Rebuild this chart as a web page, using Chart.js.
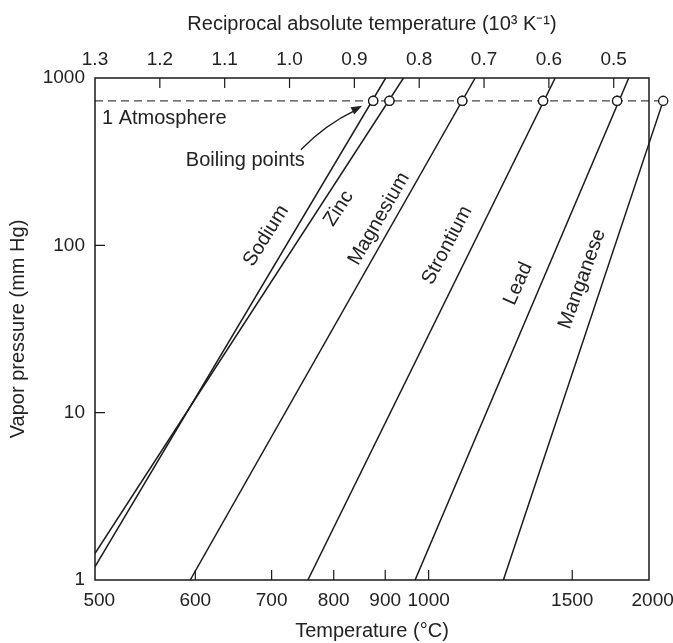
<!DOCTYPE html>
<html>
<head>
<meta charset="utf-8">
<script src="https://cdn.jsdelivr.net/npm/chart.js@4.4.0/dist/chart.umd.min.js"></script>
<style>
  html, body { margin: 0; padding: 0; background: #fff; }
  #wrap { width: 673px; height: 643px; }
</style>
</head>
<body>
<div id="wrap"><canvas id="vapor"></canvas></div>
<script>
// Values
const metals = ['Sodium', 'Zinc', 'Magnesium', 'Strontium', 'Lead', 'Manganese'];
// lower end of each line (°C, mm Hg)
const lowTemp = [496, 496, 594, 756, 967, 1219];
const lowPress = [1.2, 1.44, 1, 1, 1, 1];
// upper end of each line (°C, mm Hg)
const highTemp = [901, 940, 1128, 1421, 1824, 2087];
const highPress = [1000, 1000, 1000, 1000, 1000, 730];
// boiling points on the "1 atmosphere" line (°C, mm Hg as drawn)
const boilTemp = [875, 909, 1090, 1369, 1748, 2087];
const atmPress = 730;

// axis ticks
const tempTicks = [500, 600, 700, 800, 900, 1000, 1500, 2000];
const recipTicks = [1.3, 1.2, 1.1, 1.0, 0.9, 0.8, 0.7, 0.6, 0.5];
const pressTicks = [1, 10, 100, 1000];
const recipMin = 0.4456, recipMax = 1.3;

const toRecip = c => 1000 / (c + 273.15);
const FONT = '"Liberation Sans", Arial, Helvetica, sans-serif';
const INK = '#1a1a1a';
const TEXT = '#222';

// where the metal names sit (°C, mm Hg, degrees)
const nameSpots = [
  [692, 114, -58], [809, 166, -57], [887, 144, -60],
  [1048, 100, -62], [1272, 59, -66], [1550, 63, -70]
];

const datasets = [];

// boiling point circles
datasets.push({
  type: 'scatter',
  data: boilTemp.map(t => ({ x: toRecip(t), y: atmPress })),
  pointRadius: 4.6,
  pointBackgroundColor: '#fff',
  pointBorderColor: INK,
  pointBorderWidth: 1.3,
  clip: false,
  order: 0
});

metals.forEach((m, i) => {
  datasets.push({
    type: 'line',
    label: m,
    data: [
      { x: toRecip(lowTemp[i]), y: lowPress[i] },
      { x: toRecip(highTemp[i]), y: highPress[i] }
    ],
    borderColor: INK,
    borderWidth: 1.5,
    pointRadius: 0,
    clip: m === 'Manganese' ? false : undefined,
    order: 1
  });
});

// one atmosphere dashed line
datasets.push({
  type: 'line',
  data: [
    { x: recipMax, y: atmPress },
    { x: toRecip(boilTemp[boilTemp.length - 1]), y: atmPress }
  ],
  borderColor: '#444',
  borderWidth: 1.3,
  borderDash: [8, 5],
  pointRadius: 0,
  clip: false,
  order: 2
});

const decor = {
  id: 'decor',
  afterDatasetsDraw(chart) {
    const { ctx, chartArea: a, scales } = chart;
    const sx = scales.x, sy = scales.y;
    ctx.save();

    // frame
    ctx.strokeStyle = INK;
    ctx.lineWidth = 1.5;
    ctx.strokeRect(a.left, a.top, a.right - a.left, a.bottom - a.top);

    // inward ticks
    ctx.lineWidth = 1.2;
    ctx.beginPath();
    tempTicks.forEach(t => {
      const px = sx.getPixelForValue(toRecip(t));
      if (px > a.left + 6 && px < a.right - 6) {
        ctx.moveTo(px, a.bottom); ctx.lineTo(px, a.bottom - 10);
      }
    });
    recipTicks.forEach(r => {
      const px = sx.getPixelForValue(r);
      if (px > a.left + 6 && px < a.right - 6) {
        ctx.moveTo(px, a.top); ctx.lineTo(px, a.top + 10);
      }
    });
    pressTicks.forEach(p => {
      const py = sy.getPixelForValue(p);
      if (py > a.top + 6 && py < a.bottom - 6) {
        ctx.moveTo(a.left, py); ctx.lineTo(a.left + 10, py);
      }
    });
    ctx.stroke();

    // metal names
    ctx.fillStyle = TEXT;
    ctx.font = '20px ' + FONT;
    ctx.textAlign = 'center';
    ctx.textBaseline = 'middle';
    metals.forEach((m, i) => {
      const [t, p, ang] = nameSpots[i];
      ctx.save();
      ctx.translate(sx.getPixelForValue(toRecip(t)), sy.getPixelForValue(p));
      ctx.rotate(ang * Math.PI / 180);
      ctx.fillText(m, 0, 0);
      ctx.restore();
    });

    // 1 Atmosphere
    const yAtm = sy.getPixelForValue(atmPress);
    ctx.textAlign = 'left';
    ctx.fillText('1 Atmosphere', a.left + 7, yAtm + 18);

    // Boiling points + arrow to the sodium circle
    const bx = sx.getPixelForValue(toRecip(751));
    const by = sy.getPixelForValue(320);
    ctx.textAlign = 'right';
    ctx.fillText('Boiling points', bx, by);
    const cx = sx.getPixelForValue(toRecip(boilTemp[0]));
    const tipX = cx - 11, tipY = yAtm + 5;
    const x0 = bx - 4, y0 = by - 11;
    const qx = x0 + 24, qy = y0 - 25;
    ctx.lineWidth = 1.3;
    ctx.beginPath();
    ctx.moveTo(x0, y0);
    ctx.quadraticCurveTo(qx, qy, tipX - 6, tipY + 4);
    ctx.stroke();
    const ang = Math.atan2(tipY - qy, tipX - qx);
    ctx.beginPath();
    ctx.moveTo(tipX, tipY);
    ctx.lineTo(tipX - 11 * Math.cos(ang) + 4 * Math.sin(ang), tipY - 11 * Math.sin(ang) - 4 * Math.cos(ang));
    ctx.lineTo(tipX - 11 * Math.cos(ang) - 4 * Math.sin(ang), tipY - 11 * Math.sin(ang) + 4 * Math.cos(ang));
    ctx.closePath();
    ctx.fill();

    // circles again, without the chart-area cut so the last one shows past the frame
    const whole = { left: 0, top: 0, right: chart.width, bottom: chart.height };
    chart.getDatasetMeta(0).data.forEach(pt => pt.draw(ctx, whole));

    ctx.restore();
  }
};

const tickFont = { family: FONT, size: 19 };
const titleFont = { family: FONT, size: 20 };

new Chart(document.getElementById('vapor'), {
  data: { datasets },
  options: {
    responsive: true,
    maintainAspectRatio: false,
    animation: false,
    layout: { padding: { left: 0, right: 24, top: 0, bottom: 0 } },
    plugins: { legend: { display: false }, tooltip: { enabled: false } },
    scales: {
      x: {
        type: 'linear',
        position: 'bottom',
        reverse: true,
        min: recipMin,
        max: recipMax,
        border: { display: false },
        grid: { display: false, drawTicks: false },
        afterBuildTicks: s => { s.ticks = tempTicks.map(t => ({ value: toRecip(t) })); },
        afterFit: s => { s.height = 63; s.paddingLeft = 0; s.paddingRight = 0; },
        ticks: {
          autoSkip: false, maxRotation: 0, padding: 9,
          color: TEXT, font: tickFont,
          callback: v => String(Math.round(1000 / v - 273.15))
        },
        title: {
          display: true, text: 'Temperature (°C)', color: TEXT,
          font: titleFont, padding: { top: 0, bottom: 0 }
        }
      },
      x2: {
        type: 'linear',
        position: 'top',
        reverse: true,
        min: recipMin,
        max: recipMax,
        border: { display: false },
        grid: { display: false, drawTicks: false },
        afterBuildTicks: s => { s.ticks = recipTicks.map(r => ({ value: r })); },
        afterFit: s => { s.height = 78; s.paddingLeft = 0; s.paddingRight = 0; },
        ticks: {
          autoSkip: false, maxRotation: 0, padding: 7,
          color: TEXT, font: tickFont,
          callback: v => v.toFixed(1)
        },
        title: {
          display: true, text: 'Reciprocal absolute temperature (10³ K⁻¹)', color: TEXT,
          font: titleFont, padding: { top: 12, bottom: 0 }
        }
      },
      y: {
        type: 'logarithmic',
        min: 1,
        max: 1000,
        border: { display: false },
        grid: { display: false, drawTicks: false },
        afterBuildTicks: s => { s.ticks = pressTicks.map(p => ({ value: p })); },
        afterFit: s => { s.width = 95; s.paddingTop = 0; s.paddingBottom = 0; },
        ticks: {
          autoSkip: false, padding: 10,
          color: TEXT, font: tickFont,
          callback: v => String(v)
        },
        title: {
          display: true, text: 'Vapor pressure (mm Hg)', color: TEXT,
          font: titleFont, padding: { top: 6, bottom: 0 }
        }
      }
    }
  },
  plugins: [decor]
});
</script>
</body>
</html>
